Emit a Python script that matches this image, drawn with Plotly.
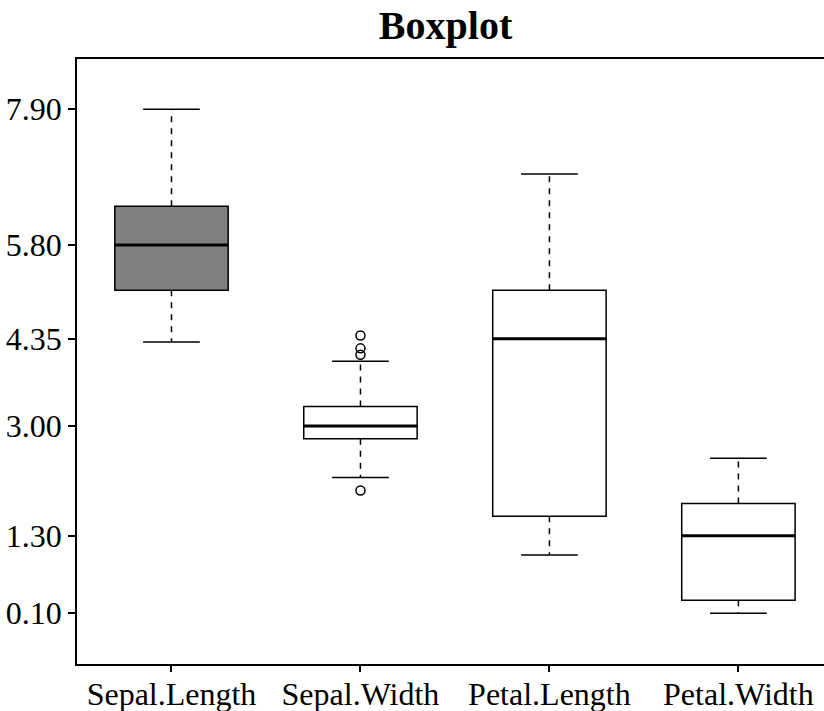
import plotly.graph_objects as go

categories = ["Sepal.Length", "Sepal.Width", "Petal.Length", "Petal.Width"]
positions = [1, 2, 3, 4]
q1 = [5.1, 2.8, 1.6, 0.3]
median = [5.8, 3.0, 4.35, 1.3]
q3 = [6.4, 3.3, 5.1, 1.8]
whisker_lo = [4.3, 2.2, 1.0, 0.1]
whisker_hi = [7.9, 4.0, 6.9, 2.5]
outlier_pos = [2, 2, 2, 2]
outlier_val = [4.4, 4.1, 4.2, 2.0]
fills = ["#808080", "white", "white", "white"]
ytick_vals = [0.1, 1.3, 3.0, 4.35, 5.8, 7.9]
ytick_text = ["0.10", "1.30", "3.00", "4.35", "5.80", "7.90"]

FONT = "Liberation Serif"
BOX_W = 0.6
CAP_HALF = 0.15

fig = go.Figure()

for i, p in enumerate(positions):
    fig.add_trace(go.Box(
        x=[p], q1=[q1[i]], median=[median[i]], q3=[q3[i]],
        lowerfence=[q1[i]], upperfence=[q3[i]],
        width=BOX_W, whiskerwidth=0,
        fillcolor=fills[i], line=dict(color="black", width=1.5),
        boxpoints=False, showlegend=False, hoverinfo="skip",
    ))

for i, p in enumerate(positions):
    # whiskers (dashed)
    fig.add_trace(go.Scatter(
        x=[p, p, None, p, p],
        y=[q3[i], whisker_hi[i], None, q1[i], whisker_lo[i]],
        mode="lines", line=dict(color="black", width=1.5, dash="6px,6px"),
        showlegend=False, hoverinfo="skip",
    ))
    # caps
    fig.add_trace(go.Scatter(
        x=[p - CAP_HALF, p + CAP_HALF, None, p - CAP_HALF, p + CAP_HALF],
        y=[whisker_hi[i], whisker_hi[i], None, whisker_lo[i], whisker_lo[i]],
        mode="lines", line=dict(color="black", width=1.5),
        showlegend=False, hoverinfo="skip",
    ))
    # median (thick)
    fig.add_trace(go.Scatter(
        x=[p - BOX_W / 2, p + BOX_W / 2],
        y=[median[i], median[i]],
        mode="lines", line=dict(color="black", width=3),
        showlegend=False, hoverinfo="skip",
    ))

fig.add_trace(go.Scatter(
    x=outlier_pos, y=outlier_val, mode="markers",
    marker=dict(symbol="circle-open", size=9, color="black", line=dict(width=1.5)),
    showlegend=False, hoverinfo="skip",
))

fig.update_layout(
    width=824, height=711,
    margin=dict(l=77, r=0, t=59, b=47),
    paper_bgcolor="white", plot_bgcolor="white",
    font=dict(family=FONT, size=32, color="black"),
    title=dict(text="<b>Boxplot</b>", x=0.5407, xref="container", xanchor="center",
               y=0.965, yref="container", yanchor="middle",
               font=dict(family=FONT, size=40, color="black")),
    boxmode="overlay",
)
fig.update_xaxes(
    range=[0.5, 4.453], tickvals=positions, ticktext=categories,
    ticks="outside", ticklen=6, tickwidth=1.5, tickcolor="black",
    showline=True, linewidth=1.5, linecolor="black", mirror=True,
    showgrid=False, zeroline=False, automargin=False,
    tickfont=dict(size=32), ticklabelstandoff=-5,
)
fig.update_yaxes(
    range=[-0.685, 8.678], tickvals=ytick_vals, ticktext=ytick_text,
    ticks="outside", ticklen=7, tickwidth=1.5, tickcolor="black",
    showline=True, linewidth=1.5, linecolor="black",
    showgrid=False, zeroline=False, automargin=False,
)

fig.write_html(
    "out.html",
    config={"displayModeBar": False},
    post_script="document.body.style.margin='0';document.body.style.overflow='hidden';",
)
